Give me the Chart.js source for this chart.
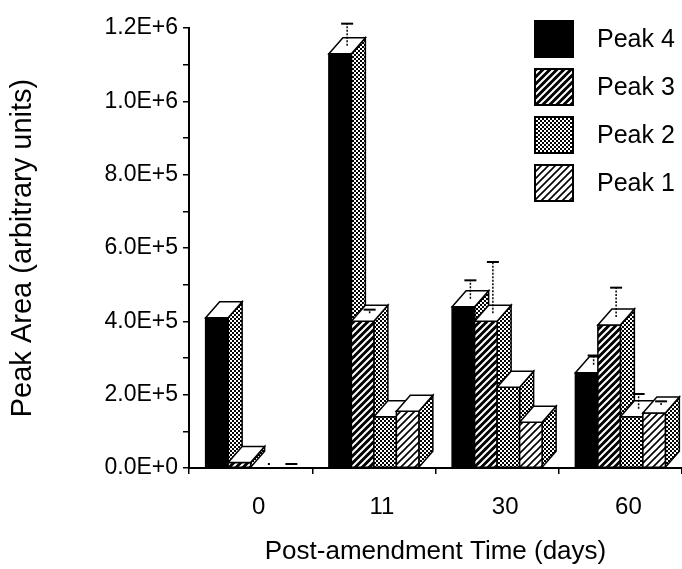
<!DOCTYPE html>
<html>
<head>
<meta charset="utf-8">
<script src="https://cdn.jsdelivr.net/npm/chart.js@4.4.1/dist/chart.umd.min.js"></script>
<style>
  body { margin: 0; background: #fff; }
  #wrap { width: 682px; height: 569px; }
</style>
</head>
<body>
<div id="wrap"><canvas id="chart"></canvas></div>
<script>
// Data
const days = ["0", "11", "30", "60"];
const peakNames = ["Peak 4", "Peak 3", "Peak 2", "Peak 1"];
const peak4 = [410000, 1130000, 440000, 260000];
const peak3 = [15000, 400000, 400000, 390000];
const peak2 = [0, 140000, 220000, 140000];
const peak1 = [0, 155000, 125000, 150000];
const err4 = [0, 60000, 50000, 25000];
const err3 = [0, 10000, 140000, 80000];
const err2 = [0, 0, 0, 40000];
const err1 = [0, 0, 0, 10000];

const FONT = "'Liberation Sans', Arial, Helvetica, sans-serif";
const DX = 14, DY = 16; // depth of the fake 3d boxes

// Fill patterns
function makeTile(size, draw) {
  const c = document.createElement("canvas");
  c.width = size; c.height = size;
  const g = c.getContext("2d");
  draw(g, size);
  return document.getElementById("chart").getContext("2d").createPattern(c, "repeat");
}

function hatch(bg, fg, size, lw) {
  return makeTile(size, (g, s) => {
    g.fillStyle = bg;
    g.fillRect(0, 0, s, s);
    g.strokeStyle = fg;
    g.lineWidth = lw;
    g.beginPath();
    g.moveTo(-1, s + 1); g.lineTo(s + 1, -1);
    g.moveTo(-2, 2); g.lineTo(2, -2);
    g.moveTo(s - 2, s + 2); g.lineTo(s + 2, s - 2);
    g.stroke();
  });
}

const dots = makeTile(4, (g, s) => {
  g.fillStyle = "#fff";
  g.fillRect(0, 0, s, s);
  g.fillStyle = "#000";
  g.fillRect(0, 0, 2, 2);
  g.fillRect(2, 2, 2, 2);
});

const faces = ["#000", hatch("#000", "#fff", 7, 2), dots, hatch("#fff", "#000", 7, 1.6)];
const values = [peak4, peak3, peak2, peak1];
const errors = [err4, err3, err2, err1];

function poly(ctx, pts, fill) {
  ctx.beginPath();
  ctx.moveTo(pts[0][0], pts[0][1]);
  for (let k = 1; k < pts.length; k++) ctx.lineTo(pts[k][0], pts[k][1]);
  ctx.closePath();
  ctx.fillStyle = fill;
  ctx.fill();
  ctx.stroke();
}

// 3d boxes + error bars, drawn group by group so each box covers the side of the one before
const boxes = {
  id: "boxes",
  afterDatasetsDraw(chart) {
    const ctx = chart.ctx;
    const yScale = chart.scales.y;
    ctx.save();
    ctx.strokeStyle = "#000";
    ctx.lineWidth = 1.5;
    ctx.lineJoin = "miter";
    for (let i = 0; i < days.length; i++) {
      chart.data.datasets.forEach((ds, d) => {
        const bar = chart.getDatasetMeta(d).data[i];
        const l = bar.x - bar.width / 2;
        const r = bar.x + bar.width / 2;
        const t = bar.y;
        const b = bar.base;
        const cx = bar.x + DX / 2;

        if (values[d][i] === 0) {
          // empty bar: just a little mark on the floor
          const half = d === 3 ? 6 : 1;
          ctx.lineWidth = 2;
          ctx.beginPath();
          ctx.moveTo(cx - half, b - 4);
          ctx.lineTo(cx + half, b - 4);
          ctx.stroke();
          ctx.lineWidth = 1.5;
          return;
        }
        poly(ctx, [[r, t], [r + DX, t - DY], [r + DX, b - DY], [r, b]], dots);
        poly(ctx, [[l, t], [r, t], [r, b], [l, b]], faces[d]);
        poly(ctx, [[l, t], [l + DX, t - DY], [r + DX, t - DY], [r, t]], "#fff");

        const e = errors[d][i];
        if (e > 0) {
          const y0 = t - DY / 2;
          const y1 = yScale.getPixelForValue(values[d][i] + e) - DY / 2;
          ctx.setLineDash([2, 1.5]);
          ctx.beginPath();
          ctx.moveTo(cx, y0); ctx.lineTo(cx, y1);
          ctx.stroke();
          ctx.setLineDash([]);
          ctx.lineWidth = 2;
          ctx.beginPath();
          ctx.moveTo(cx - 6, y1); ctx.lineTo(cx + 6, y1);
          ctx.stroke();
          ctx.lineWidth = 1.5;
        }
      });
    }
    ctx.restore();
  }
};

// legend in the upper right corner
const legendBoxes = {
  id: "legendBoxes",
  afterDraw(chart) {
    const ctx = chart.ctx;
    ctx.save();
    ctx.lineWidth = 2;
    ctx.strokeStyle = "#000";
    ctx.font = "25px " + FONT;
    ctx.textBaseline = "middle";
    chart.data.datasets.forEach((ds, d) => {
      const top = 21 + d * 48;
      ctx.fillStyle = faces[d];
      ctx.fillRect(535, top, 38, 36);
      ctx.strokeRect(535, top, 38, 36);
      ctx.fillStyle = "#000";
      ctx.fillText(ds.label, 597, top + 19);
    });
    ctx.restore();
  }
};

new Chart(document.getElementById("chart"), {
  type: "bar",
  data: {
    labels: days,
    datasets: values.map((v, d) => ({
      label: peakNames[d],
      data: v,
      backgroundColor: "rgba(0,0,0,0)",
      borderWidth: 0
    }))
  },
  options: {
    responsive: true,
    maintainAspectRatio: false,
    animation: false,
    layout: { padding: { top: 28, right: 0, left: 0, bottom: 0 } },
    datasets: { bar: { barPercentage: 1, categoryPercentage: 0.73 } },
    plugins: {
      legend: { display: false },
      tooltip: { enabled: false }
    },
    scales: {
      x: {
        offset: true,
        ticks: { color: "#000", font: { family: FONT, size: 24 }, padding: 19, labelOffset: 8 },
        grid: { offset: true, drawOnChartArea: false, drawTicks: true, tickLength: 6, color: "#000", lineWidth: 1.5 },
        border: { display: true, color: "#000", width: 2 },
        title: {
          display: true,
          text: "Post-amendment Time (days)",
          color: "#000",
          font: { family: FONT, size: 26 },
          padding: { top: 0, bottom: 2 }
        },
        afterFit: s => { s.height = 101; }
      },
      y: {
        min: 0,
        max: 1200000,
        ticks: {
          stepSize: 100000,
          autoSkip: false,
          color: "#000",
          font: { family: FONT, size: 23 },
          padding: 5,
          callback: v => Math.round(v / 100000) % 2 === 0 ? v.toExponential(1).toUpperCase() : ""
        },
        grid: { drawOnChartArea: false, drawTicks: true, tickLength: 6, color: "#000", lineWidth: 1.5 },
        border: { display: true, color: "#000", width: 2 },
        title: {
          display: true,
          text: "Peak Area (arbitrary units)",
          color: "#000",
          font: { family: FONT, size: 29 },
          padding: { top: 6, bottom: 0 }
        },
        afterFit: s => { s.width = 189; }
      }
    }
  },
  plugins: [boxes, legendBoxes]
});
</script>
</body>
</html>
